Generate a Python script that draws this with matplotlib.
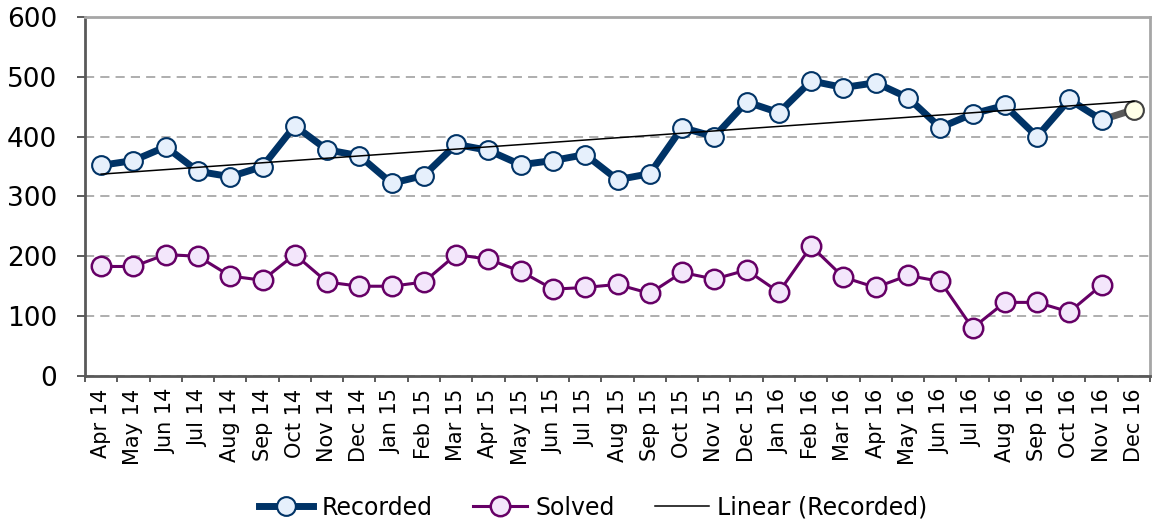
import matplotlib
matplotlib.use("Agg")
import matplotlib.pyplot as plt
import numpy as np

# month labels, Apr 14 .. Dec 16
months = ["Apr 14", "May 14", "Jun 14", "Jul 14", "Aug 14", "Sep 14", "Oct 14",
          "Nov 14", "Dec 14", "Jan 15", "Feb 15", "Mar 15", "Apr 15", "May 15",
          "Jun 15", "Jul 15", "Aug 15", "Sep 15", "Oct 15", "Nov 15", "Dec 15",
          "Jan 16", "Feb 16", "Mar 16", "Apr 16", "May 16", "Jun 16", "Jul 16",
          "Aug 16", "Sep 16", "Oct 16", "Nov 16", "Dec 16"]

recorded = [352, 360, 383, 342, 333, 350, 418, 378, 368, 322, 335, 387, 377,
            353, 360, 370, 328, 338, 415, 400, 458, 440, 493, 482, 490, 465,
            415, 438, 452, 400, 462, 428, 445]

solved = [183, 183, 203, 200, 167, 160, 203, 157, 150, 150, 157, 203, 195,
          175, 145, 148, 153, 138, 173, 162, 177, 140, 217, 165, 148, 168,
          158, 80, 123, 123, 107, 152]

x = np.arange(len(months))
rec = np.array(recorded, dtype=float)
sol = np.array(solved, dtype=float)

# linear trend over recorded
k, b = np.polyfit(x, rec, 1)
trend = k * x + b

fig = plt.figure(figsize=(11.52, 5.25), dpi=100)
ax = fig.add_axes([0.0738, 0.2838, 0.9245, 0.684])

navy = "#003366"
purple = "#660066"

# gridlines
ax.set_ylim(0, 600)
ax.set_xlim(-0.5, len(months) - 0.5)
ax.set_yticks(range(0, 601, 100))
ax.yaxis.grid(True, linestyle=(0, (6, 4)), color="#999999", linewidth=1.1)
ax.set_axisbelow(True)

# last (forecast) segment of recorded
ax.plot(x[-2:], rec[-2:], color="#595959", linewidth=5, zorder=3,
        solid_capstyle="butt")
ax.plot(x[-1], rec[-1], "o", markersize=13.5, markerfacecolor="#FFFFE8",
        markeredgecolor="#404040", markeredgewidth=1.5, zorder=4)

l1, = ax.plot(x[:-1], rec[:-1], "-o", color=navy, linewidth=5,
              markersize=13.5, markerfacecolor="#E6F0FC", markeredgecolor=navy,
              markeredgewidth=1.5, label="Recorded", zorder=4)
l2, = ax.plot(x[:len(sol)], sol, "-o", color=purple, linewidth=2.2,
              markersize=14, markerfacecolor="#F3E6FB", markeredgecolor=purple,
              markeredgewidth=1.8, label="Solved", zorder=4)
l3, = ax.plot(x, trend, color="black", linewidth=1.1, label="Linear (Recorded)",
              zorder=5)

# x ticks: labels at centres, marks at boundaries
ax.set_xticks(x)
ax.set_xticklabels(months, rotation=90, fontsize=15)
ax.set_xticks(np.arange(-0.5, len(months)), minor=True)
ax.tick_params(axis="x", which="major", length=0, pad=9)
ax.tick_params(axis="x", which="minor", length=4.5, width=1.2, color="#404040",
               direction="out")
ax.tick_params(axis="y", length=6, width=1.2, color="#404040", labelsize=19,
               pad=14)

for s in ["left", "bottom"]:
    ax.spines[s].set_color("#595959")
    ax.spines[s].set_linewidth(2)
for s in ["top", "right"]:
    ax.spines[s].set_color("#A6A6A6")
    ax.spines[s].set_linewidth(2)

fig.legend(handles=[l1, l2, l3], loc="center", bbox_to_anchor=(0.515, 0.033),
           ncol=3, frameon=False, fontsize=17, handlelength=2.3,
           columnspacing=1.7, handletextpad=0.35)

fig.savefig("out.png", dpi=100)
